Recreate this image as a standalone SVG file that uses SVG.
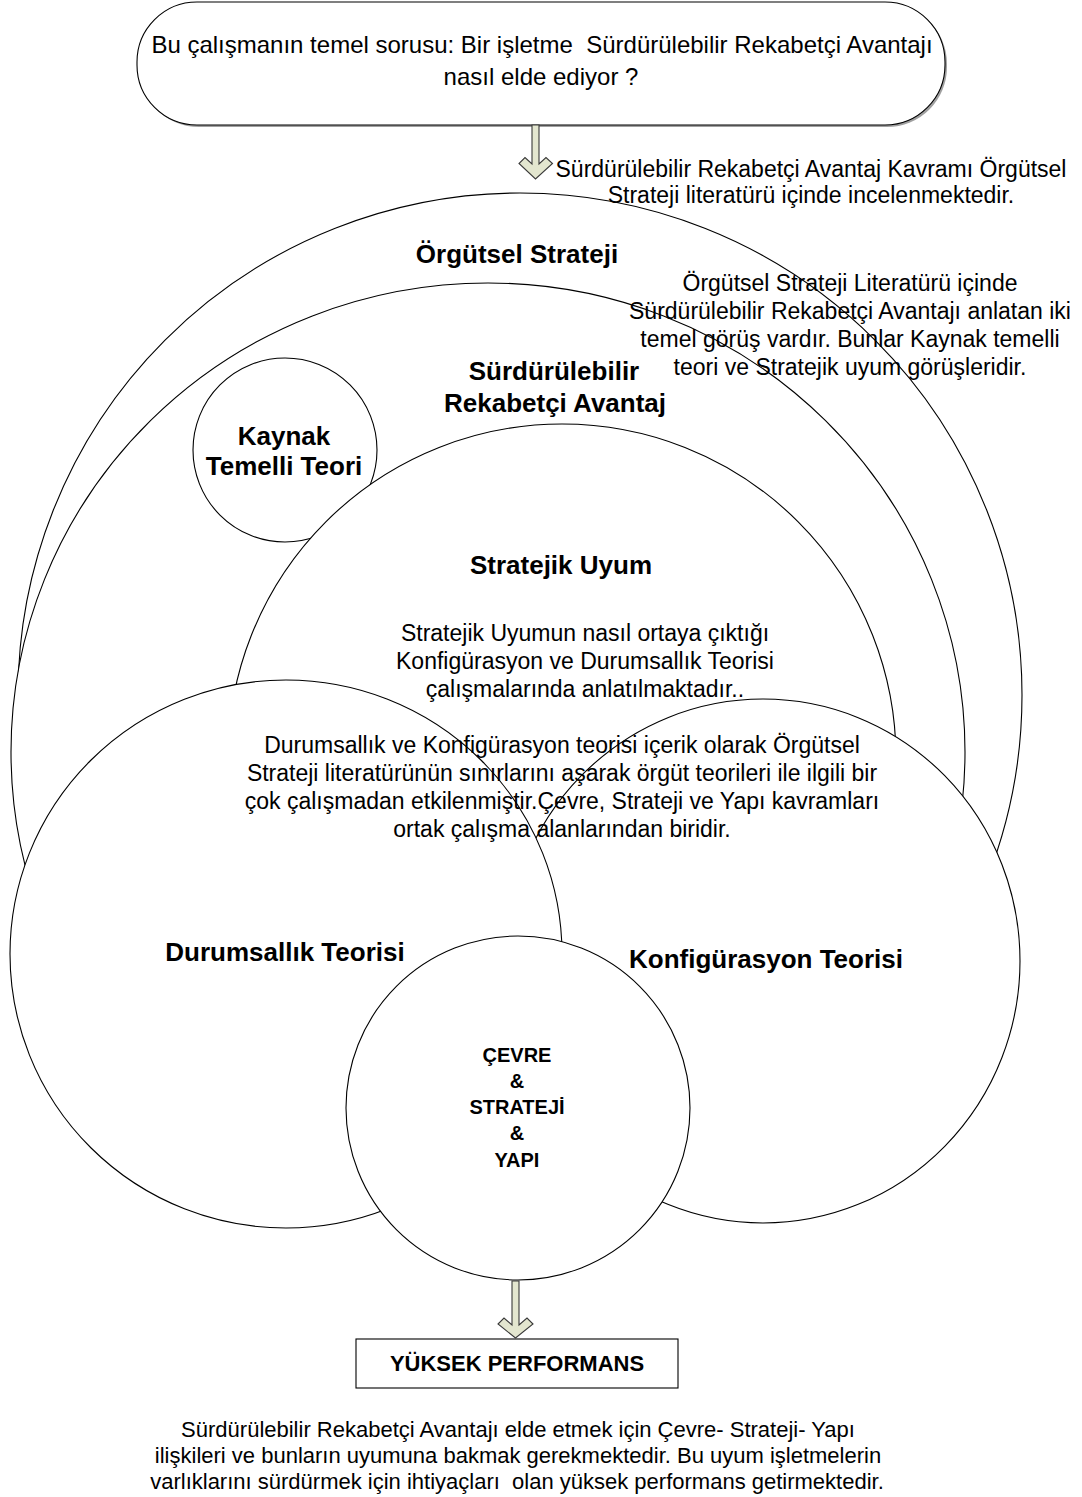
<svg xmlns="http://www.w3.org/2000/svg" width="1082" height="1497" viewBox="0 0 1082 1497">
<style>
  .shape { fill: #ffffff; stroke: #000000; stroke-width: 1.1; }
  .arrow { fill: #e3e6cf; stroke: #3a3a3a; stroke-width: 1.1; stroke-linejoin: miter; }
  text { font-family: "Liberation Sans", Arial, sans-serif; fill: #000000; text-anchor: middle; white-space: pre; }
  .reg { font-size: 23px; }
  .big { font-size: 24px; }
  .bold { font-size: 26px; font-weight: bold; }
  .core { font-size: 20px; font-weight: bold; }
  .perf { font-size: 22px; font-weight: bold; }
  .foot { font-size: 22px; }
</style>

<g id="node-question">
  <rect x="139" y="4" width="808" height="123" rx="60" ry="60" fill="#a0a0a0"/>
  <rect x="137" y="2" width="808" height="123" rx="60" ry="60" class="shape"/>
</g>

<g id="node-orgutsel-strateji">
  <circle cx="520" cy="695" r="502" class="shape"/>
</g>
<g id="node-surdurulebilir-rekabetci-avantaj">
  <ellipse cx="488" cy="752" rx="477" ry="469" class="shape"/>
</g>
<g id="node-kaynak-temelli-teori">
  <circle cx="285" cy="450" r="92" class="shape"/>
</g>
<g id="node-stratejik-uyum">
  <circle cx="562" cy="758" r="334" class="shape"/>
</g>
<g id="node-konfigurasyon-teorisi">
  <ellipse cx="763" cy="961" rx="257" ry="262" class="shape"/>
</g>
<g id="node-durumsallik-teorisi">
  <ellipse cx="286" cy="954" rx="276" ry="274" class="shape"/>
</g>
<g id="node-cevre-strateji-yapi">
  <circle cx="518" cy="1108" r="172" class="shape"/>
</g>
<g id="node-yuksek-performans">
  <rect x="356" y="1339" width="322" height="49" class="shape"/>
</g>

<g id="connectors">
  <polygon class="arrow" points="532,125 539,125 539,164 546,157.5 552.5,163.5 535.5,179 519,163.5 525,157.5 532,164"/>
  <polygon class="arrow" points="512,1281 519,1281 519,1325 527,1318 533,1324 515.5,1338 498,1324 504,1318 512,1325"/>
</g>

<g id="labels">
  <text class="big" x="542" y="53" xml:space="preserve">Bu çalışmanın temel sorusu: Bir işletme  Sürdürülebilir Rekabetçi Avantajı</text>
  <text class="big" x="541" y="85">nasıl elde ediyor ?</text>

  <text class="reg" x="811" y="177">Sürdürülebilir Rekabetçi Avantaj Kavramı Örgütsel</text>
  <text class="reg" x="811" y="203">Strateji literatürü içinde incelenmektedir.</text>

  <text class="bold" x="517" y="263">Örgütsel Strateji</text>

  <text class="reg" x="850" y="291">Örgütsel Strateji Literatürü içinde</text>
  <text class="reg" x="850" y="319">Sürdürülebilir Rekabetçi Avantajı anlatan iki</text>
  <text class="reg" x="850" y="347">temel görüş vardır. Bunlar Kaynak temelli</text>
  <text class="reg" x="850" y="375">teori ve Stratejik uyum görüşleridir.</text>

  <text class="bold" x="554" y="380">Sürdürülebilir</text>
  <text class="bold" x="555" y="412">Rekabetçi Avantaj</text>

  <text class="bold" x="284" y="445">Kaynak</text>
  <text class="bold" x="284" y="475">Temelli Teori</text>

  <text class="bold" x="561" y="574">Stratejik Uyum</text>

  <text class="reg" x="585" y="641">Stratejik Uyumun nasıl ortaya çıktığı</text>
  <text class="reg" x="585" y="669">Konfigürasyon ve Durumsallık Teorisi</text>
  <text class="reg" x="585" y="697">çalışmalarında anlatılmaktadır..</text>

  <text class="reg" x="562" y="753">Durumsallık ve Konfigürasyon teorisi içerik olarak Örgütsel</text>
  <text class="reg" x="562" y="781">Strateji literatürünün sınırlarını aşarak örgüt teorileri ile ilgili bir</text>
  <text class="reg" x="562" y="809">çok çalışmadan etkilenmiştir.Çevre, Strateji ve Yapı kavramları</text>
  <text class="reg" x="562" y="837">ortak çalışma alanlarından biridir.</text>

  <text class="bold" x="285" y="961">Durumsallık Teorisi</text>
  <text class="bold" x="766" y="968">Konfigürasyon Teorisi</text>

  <text class="core" x="517" y="1062">ÇEVRE</text>
  <text class="core" x="517" y="1088">&amp;</text>
  <text class="core" x="517" y="1114">STRATEJİ</text>
  <text class="core" x="517" y="1140">&amp;</text>
  <text class="core" x="517" y="1167">YAPI</text>

  <text class="perf" x="517" y="1371">YÜKSEK PERFORMANS</text>

  <text class="foot" x="518" y="1437">Sürdürülebilir Rekabetçi Avantajı elde etmek için Çevre- Strateji- Yapı</text>
  <text class="foot" x="518" y="1463">ilişkileri ve bunların uyumuna bakmak gerekmektedir. Bu uyum işletmelerin</text>
  <text class="foot" x="517" y="1489" xml:space="preserve">varlıklarını sürdürmek için ihtiyaçları  olan yüksek performans getirmektedir.</text>
</g>
</svg>
